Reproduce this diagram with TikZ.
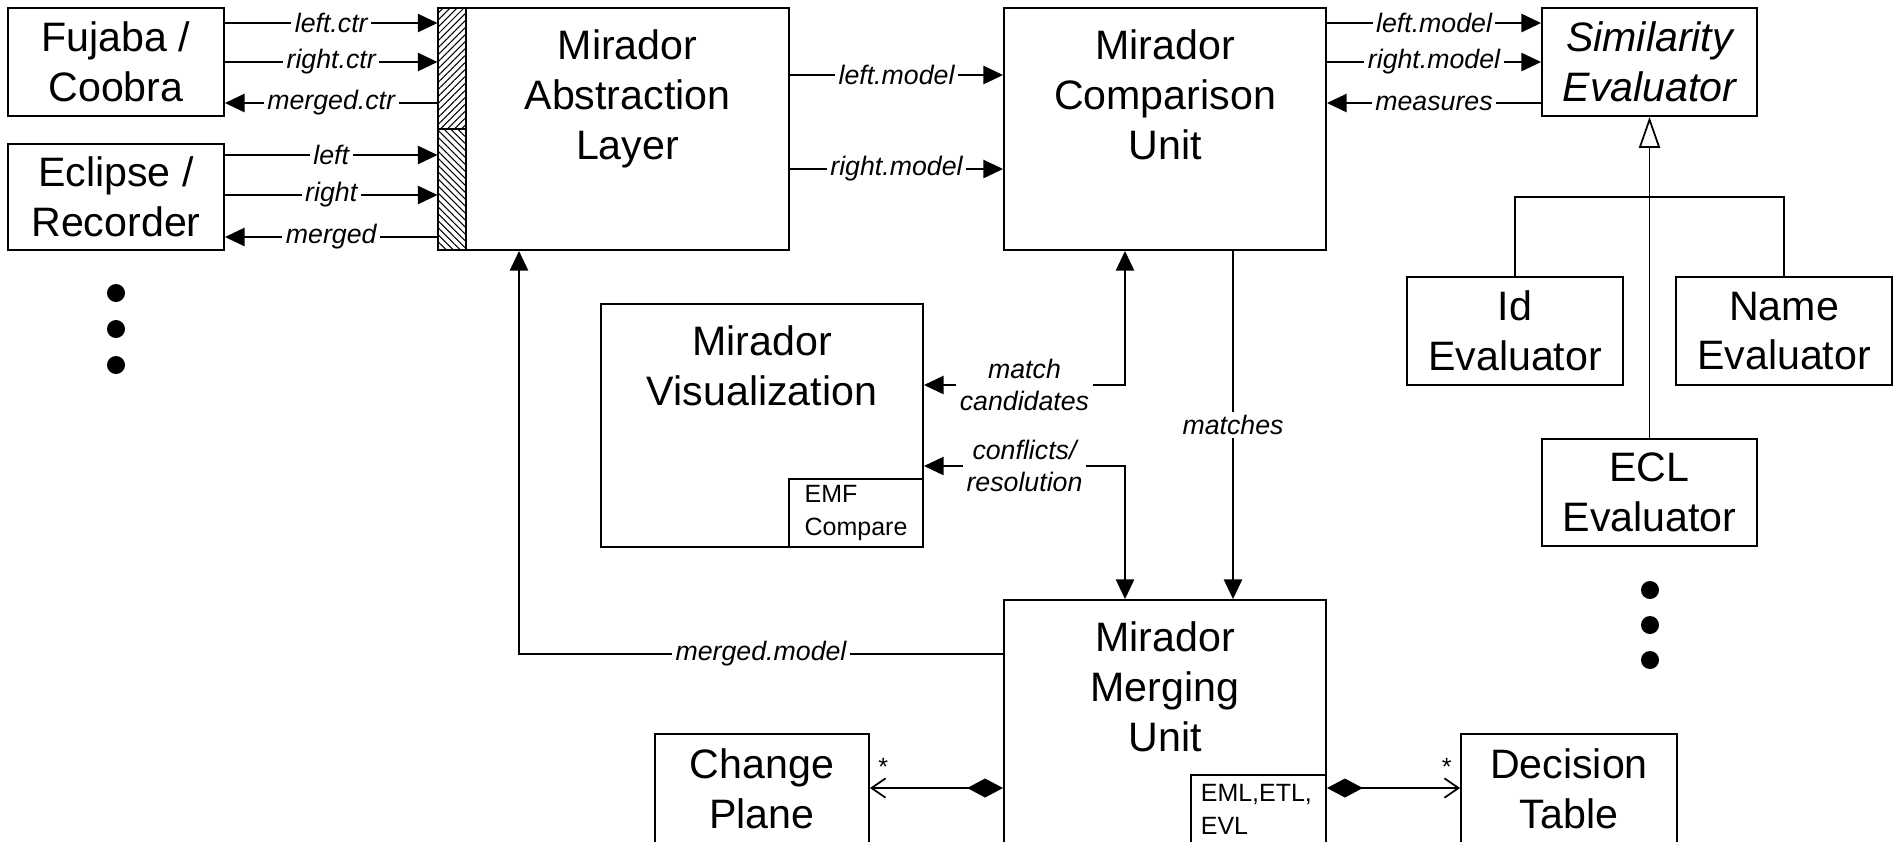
\documentclass[tikz,border=0pt]{standalone}
\usepackage{fontspec}
\setmainfont{Liberation Sans}
\usetikzlibrary{arrows.meta,patterns.meta,positioning}

\newcommand\cajafont{\fontsize{11.7pt}{14.2pt}\selectfont}
\newcommand\etiqfont{\fontsize{7.6pt}{9.1pt}\selectfont\itshape}
\newcommand\chicafont{\fontsize{7.1pt}{9.2pt}\selectfont}

\tikzset{
    caja/.style={draw, line width=0.5pt, inner sep=0pt, align=center, font=\cajafont},
    titulo/.style={inner sep=0pt, align=center, font=\cajafont},
    puerto/.style={draw, line width=0.5pt, inner sep=0pt, minimum width=0.28cm, minimum height=1.21cm},
    flujo/.style={line width=0.5pt, -{Triangle[length=5.6pt,width=5.2pt]}},
    doble/.style={line width=0.5pt, {Triangle[length=5.6pt,width=5.2pt]}-{Triangle[length=5.6pt,width=5.2pt]}},
    etiq/.style={fill=white, inner sep=1pt, font=\etiqfont, align=center},
    herencia/.style={line width=0.5pt, -{Triangle[open,length=8.8pt,width=6pt]}},
    comp/.style={line width=0.5pt, {Diamond[length=10.2pt,width=5.4pt]}-{Straight Barb[length=4pt,width=5.5pt]}},
    chica/.style={font=\chicafont, align=left}
}

\begin{document}
\begin{tikzpicture}[x=0.01cm, y=-0.01cm]

    \useasboundingbox (0,0) rectangle (1900,841);

    % Herramientas
    \node[caja, minimum width=2.16cm, minimum height=1.08cm] (fc) at (116,62) {Fujaba /\\Coobra};
    \node[caja, minimum width=2.16cm, minimum height=1.06cm] (er) at (116,197) {Eclipse /\\Recorder};

    % Puertos
    \node[puerto, pattern={Lines[angle=45,distance=1.4pt,line width=0.3pt]}] (pfc) at (452,68.5) {};
    \node[puerto, pattern={Lines[angle=-45,distance=1.4pt,line width=0.3pt]}] (per) at (452,189.5) {};

    % Unidades Mirador
    \node[caja, minimum width=3.23cm, minimum height=2.42cm] (mal) at (627.5,129) {};
    \node[titulo, below=0.22cm of mal.north] (malt) {Mirador\\Abstraction\\Layer};
    \node[caja, minimum width=3.22cm, minimum height=2.42cm] (mcu) at (1165,129) {};
    \node[titulo, below=0.22cm of mcu.north] (mcut) {Mirador\\Comparison\\Unit};
    \node[caja, minimum width=3.22cm, minimum height=2.43cm] (mv) at (762,425.5) {};
    \node[titulo, below=0.22cm of mv.north] (mvt) {Mirador\\Visualization};
    \node[caja, chica, minimum width=1.34cm, minimum height=0.68cm, anchor=south east] (emf) at (mv.south east) {EMF\\Compare};
    \node[caja, minimum width=3.22cm, minimum height=2.8cm] (mmu) at (1165,740) {};
    \node[titulo, below=0.22cm of mmu.north] (mmut) {Mirador\\Merging\\Unit};
    \node[caja, minimum width=1.35cm, minimum height=0.9cm, anchor=north east] (eml) at (mmu.east |- 0,774) {};
    \node[chica, inner sep=0pt, anchor=north west] (emlt) at ([xshift=0.1cm, yshift=-0.1cm]eml.north west) {EML,ETL,\\EVL};

    % Evaluadores
    \node[caja, font=\cajafont\itshape, minimum width=2.15cm, minimum height=1.08cm] (se) at (1649.5,62) {Similarity\\Evaluator};
    \node[caja, minimum width=2.16cm, minimum height=1.08cm] (ide) at (1515,331) {Id\\Evaluator};
    \node[caja, minimum width=2.16cm, minimum height=1.08cm] (ne) at (1784,331) {Name\\Evaluator};
    \node[caja, minimum width=2.15cm, minimum height=1.07cm] (ecl) at (1649.5,492.5) {ECL\\Evaluator};

    % Partes
    \node[caja, minimum width=2.14cm, minimum height=1.1cm] (cp) at (762,789) {Change\\Plane};
    \node[caja, minimum width=2.16cm, minimum height=1.1cm] (dt) at (1569,789) {Decision\\Table};

    % Flechas de los puertos
    \draw[flujo] (fc.east |- 0,23) -- node[etiq] (l1) {left.ctr} (pfc.west |- 0,23);
    \draw[flujo] (fc.east |- 0,62) -- node[etiq] (l2) {right.ctr} (pfc.west |- 0,62);
    \draw[flujo] (pfc.west |- 0,103) -- node[etiq] (l3) {merged.ctr} (fc.east |- 0,103);
    \draw[flujo] (er.east |- 0,155) -- node[etiq] (l4) {left} (per.west |- 0,155);
    \draw[flujo] (er.east |- 0,195) -- node[etiq] (l5) {right} (per.west |- 0,195);
    \draw[flujo] (per.west |- 0,237) -- node[etiq] (l6) {merged} (er.east |- 0,237);

    % Modelos
    \draw[flujo] (mal.east |- 0,75) -- node[etiq] (l7) {left.model} (mcu.west |- 0,75);
    \draw[flujo] (mal.east |- 0,169) -- node[etiq] (l8) {right.model} (mcu.west |- 0,169);
    \draw[flujo] (mcu.east |- 0,23) -- node[etiq] (l9) {left.model} (se.west |- 0,23);
    \draw[flujo] (mcu.east |- 0,62) -- node[etiq] (l10) {right.model} (se.west |- 0,62);
    \draw[flujo] (se.west |- 0,103) -- node[etiq] (l11) {measures} (mcu.east |- 0,103);

    % Herencia
    \coordinate (ramal) at (1649.5,197);
    \draw[line width=0.5pt] (ide.north) |- (ramal) -| (ne.north);
    \draw[herencia] (ecl.north) -- (se.south);

    % Visualizacion y fusion
    \coordinate (mc) at (1125,385);
    \coordinate (cr) at (1125,466);
    \coordinate (mm) at (519,654);
    \draw[doble] (mv.east |- mc) -- node[etiq] (l12) {match\\candidates} (mc) -- (mc |- mcu.south);
    \draw[doble] (mv.east |- cr) -- node[etiq] (l13) {conflicts/\\resolution} (cr) -- (cr |- mmu.north);
    \draw[flujo] (mcu.south -| 1233,0) -- node[etiq] (l14) {matches} (mmu.north -| 1233,0);
    \draw[flujo] (mmu.west |- mm) -- node[etiq] (l15) {merged.model} (mm) -- (mm |- mal.south);

    % Composicion
    \draw[comp] (mmu.west |- 0,788) -- node[pos=0.9, above, font=\chicafont] (s1) {*} (cp.east |- 0,788);
    \draw[comp] (mmu.east |- 0,788) -- node[pos=0.9, above, font=\chicafont] (s2) {*} (dt.west |- 0,788);

    % Puntos
    \fill (116,293) circle[radius=0.09cm];
    \fill (116,329) circle[radius=0.09cm];
    \fill (116,365) circle[radius=0.09cm];
    \fill (1650,590) circle[radius=0.09cm];
    \fill (1650,625) circle[radius=0.09cm];
    \fill (1650,660) circle[radius=0.09cm];

\end{tikzpicture}
\end{document}
